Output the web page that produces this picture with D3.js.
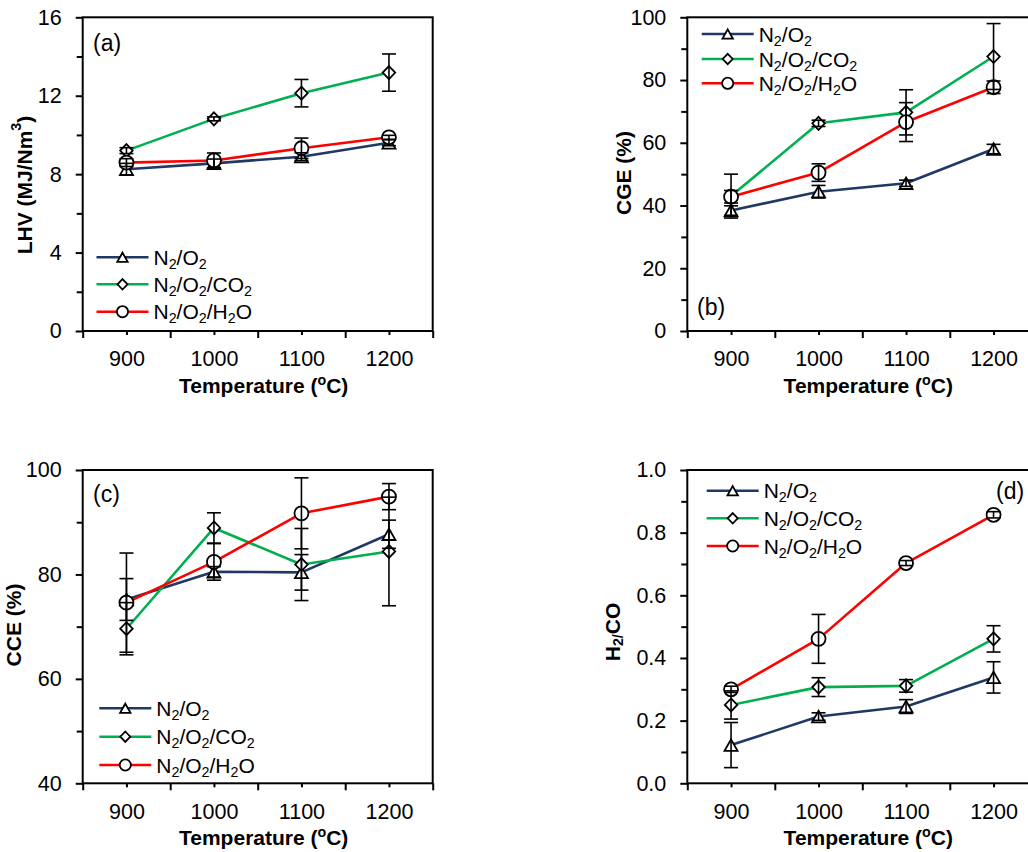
<!DOCTYPE html>
<html><head><meta charset="utf-8">
<script src="https://cdn.jsdelivr.net/npm/d3@7"></script>
<style>
body{margin:0;background:#fff}
svg{display:block}
text{font-family:"Liberation Sans",Arial,sans-serif;fill:#000}
</style>
</head><body>
<svg id="chart" width="1028" height="852"></svg>
<script>
// ---------- DATA ----------
const temperatures = [900, 1000, 1100, 1200];
const seriesNames = ["N2/O2", "N2/O2/CO2", "N2/O2/H2O"];
const seriesColors = ["#1F3864", "#00B050", "#FF0000"];
const seriesMarkers = ["triangle", "diamond", "circle"];

// (a) LHV (MJ/Nm3)
const lhvN2O2 = [8.25, 8.55, 8.89, 9.60];
const lhvCO2  = [9.20, 10.82, 12.13, 13.18];
const lhvH2O  = [8.59, 8.70, 9.32, 9.88];
const lhvN2O2Err = [0.30, 0.22, 0.20, 0.15];
const lhvCO2Err  = [0.15, 0.10, 0.70, 0.95];
const lhvH2OErr  = [0.20, 0.38, 0.52, 0.10];

// (b) CGE (%)
const cgeN2O2 = [38.4, 44.4, 47.1, 58.0];
const cgeCO2  = [43.0, 66.2, 69.7, 87.5];
const cgeH2O  = [42.8, 50.5, 66.6, 77.7];
const cgeN2O2Err = [1.5, 2.0, 1.0, 1.5];
const cgeCO2Err  = [7.0, 1.0, 7.2, 10.5];
const cgeH2OErr  = [2.0, 2.8, 6.2, 2.0];

// (c) CCE (%)
const cceN2O2 = [75.2, 80.5, 80.4, 87.7];
const cceCO2  = [69.6, 88.9, 81.9, 84.4];
const cceH2O  = [74.6, 82.4, 91.7, 94.9];
const cceN2O2Err = [4.0, 1.0, 3.4, 2.7];
const cceCO2Err  = [5.0, 2.9, 6.9, 10.4];
const cceH2OErr  = [9.5, 3.5, 6.8, 2.5];

// (d) H2/CO
const ratioN2O2 = [0.122, 0.213, 0.245, 0.338];
const ratioCO2  = [0.250, 0.307, 0.311, 0.461];
const ratioH2O  = [0.300, 0.461, 0.703, 0.857];
const ratioN2O2Err = [0.072, 0.012, 0.022, 0.050];
const ratioCO2Err  = [0.045, 0.030, 0.020, 0.042];
const ratioH2OErr  = [0.010, 0.078, 0.008, 0.010];

// axis ticks
const xMajorTicks = [850, 950, 1050, 1150, 1250];
const xLabelTicks = [900, 1000, 1100, 1200];
const lhvTicks = [0, 4, 8, 12, 16], lhvMinor = [2, 6, 10, 14];
const cgeTicks = [0, 20, 40, 60, 80, 100], cgeMinor = [10, 30, 50, 70, 90];
const cceTicks = [40, 60, 80, 100], cceMinor = [50, 70, 90];
const ratioTicks = [0, 0.2, 0.4, 0.6, 0.8, 1.0], ratioMinor = [0.1, 0.3, 0.5, 0.7, 0.9];

// ---------- HELPERS ----------
const svg = d3.select("#chart");

function rich(sel, parts, fs, subShift) {
  let off = 0;
  const ss = subShift == null ? 0.3 : subShift;
  parts.forEach(([t, k]) => {
    const target = k === "sub" ? fs * ss : (k === "sup" ? -fs * 0.4 : 0);
    sel.append("tspan").text(t)
      .attr("dy", target - off)
      .attr("font-size", k ? fs * 0.68 : fs);
    off = target;
  });
}
function legendParts(name) {
  const parts = [];
  name.split(/(\d)/).forEach(s => { if (s) parts.push([s, /\d/.test(s) ? "sub" : ""]); });
  return parts;
}
function markerPath(type, k) {
  if (type === "triangle") {
    const w = 13 * k, h = 11.5 * k;
    return `M0,${-h/2}L${w/2},${h/2}L${-w/2},${h/2}Z`;
  }
  if (type === "diamond") {
    const w = 12.5 * k, h = 13 * k;
    return `M0,${-h/2}L${w/2},0L0,${h/2}L${-w/2},0Z`;
  }
  const r = 7 * k;
  return `M${r},0A${r},${r} 0 1,1 ${-r},0A${r},${r} 0 1,1 ${r},0Z`;
}

const TICK_FS = 21.5;

function drawPanel(p) {
  const W = 350;
  const g = svg.append("g");
  const x = d3.scaleLinear().domain([850, 1250]).range([p.left, p.left + W]);
  const y = d3.scaleLinear().domain(p.yDomain).range([p.bottom, p.top]);

  // box
  g.append("rect").attr("x", p.left).attr("y", p.top)
    .attr("width", W).attr("height", p.bottom - p.top)
    .attr("fill", "none").attr("stroke", "#000").attr("stroke-width", 2);

  // y axis major
  const ya = g.append("g").attr("transform", `translate(${p.left},0)`)
    .call(d3.axisLeft(y).tickValues(p.yTicks).tickSize(7).tickSizeOuter(0).tickPadding(14).tickFormat(p.fmt));
  ya.select(".domain").remove();
  ya.selectAll("line").attr("stroke-width", 2);
  ya.selectAll("text").attr("font-size", TICK_FS).attr("font-family", "Liberation Sans, Arial, sans-serif");
  const ym = g.append("g").attr("transform", `translate(${p.left},0)`)
    .call(d3.axisLeft(y).tickValues(p.yMinor).tickSize(6).tickSizeOuter(0).tickFormat(""));
  ym.select(".domain").remove();
  ym.selectAll("line").attr("stroke-width", 2);

  // x axis
  const xa = g.append("g").attr("transform", `translate(0,${p.bottom})`)
    .call(d3.axisBottom(x).tickValues(xMajorTicks).tickSize(7).tickSizeOuter(0).tickFormat(""));
  xa.select(".domain").remove();
  xa.selectAll("line").attr("stroke-width", 2);
  const xl = g.append("g").attr("transform", `translate(0,${p.bottom})`)
    .call(d3.axisBottom(x).tickValues(xLabelTicks).tickSize(4).tickSizeOuter(0).tickPadding(16).tickFormat(d3.format("d")));
  xl.select(".domain").remove();
  xl.selectAll("line").attr("stroke-width", 2);
  xl.selectAll("text").attr("font-size", TICK_FS).attr("font-family", "Liberation Sans, Arial, sans-serif");

  // x title
  const xt = g.append("text").attr("x", p.left + W / 2 + 6).attr("y", p.bottom + 62)
    .attr("text-anchor", "middle").attr("font-weight", "bold");
  rich(xt, [["Temperature (", ""], ["o", "sup"], ["C)", ""]], 21);

  // y title
  const yt = g.append("text")
    .attr("transform", `translate(${p.yTitleX},${p.yTitleY}) rotate(-90)`)
    .attr("text-anchor", "middle").attr("dominant-baseline", "central").attr("font-weight", "bold");
  rich(yt, p.yTitle, 21);

  // series lines
  const line = d3.line().x((d, i) => x(temperatures[i])).y(d => y(d));
  p.series.forEach((s, si) => {
    g.append("path").attr("d", line(s.values)).attr("fill", "none")
      .attr("stroke", seriesColors[si]).attr("stroke-width", 2.6).attr("stroke-linejoin", "round");
  });
  // markers
  p.series.forEach((s, si) => {
    s.values.forEach((v, i) => {
      g.append("path").attr("d", markerPath(seriesMarkers[si], 1))
        .attr("transform", `translate(${x(temperatures[i])},${y(v)})`)
        .attr("fill", "#fff").attr("stroke", "#000").attr("stroke-width", 1.8);
    });
  });
  // error bars
  p.series.forEach((s, si) => {
    s.values.forEach((v, i) => {
      const cx = x(temperatures[i]), e = s.err[i];
      const y1 = y(v + e), y2 = y(v - e);
      g.append("line").attr("x1", cx).attr("x2", cx).attr("y1", y1).attr("y2", y2)
        .attr("stroke", "#000").attr("stroke-width", 1.6);
      [y1, y2].forEach(yy => g.append("line").attr("x1", cx - 7).attr("x2", cx + 7)
        .attr("y1", yy).attr("y2", yy).attr("stroke", "#000").attr("stroke-width", 1.6));
    });
  });

  // legend
  seriesNames.forEach((name, si) => {
    const ry = p.legend.rows[si];
    g.append("line").attr("x1", p.legend.x).attr("x2", p.legend.x + 52)
      .attr("y1", ry).attr("y2", ry).attr("stroke", seriesColors[si]).attr("stroke-width", 2.6);
    g.append("path").attr("d", markerPath(seriesMarkers[si], 0.8))
      .attr("transform", `translate(${p.legend.x + 26},${ry})`)
      .attr("fill", "#fff").attr("stroke", "#000").attr("stroke-width", 1.8);
    const t = g.append("text").attr("x", p.legend.x + 57).attr("y", ry + 7.5);
    rich(t, legendParts(name), 21, 0.2);
  });

  // panel label
  g.append("text").attr("x", p.label.x).attr("y", p.label.y)
    .attr("font-family", "Liberation Serif, Times New Roman, serif").attr("font-size", 23)
    .text(p.label.text);
}

// ---------- PANELS ----------
drawPanel({
  left: 82.7, top: 17.3, bottom: 331,
  yDomain: [0, 16], yTicks: lhvTicks, yMinor: lhvMinor, fmt: d3.format("d"),
  yTitle: [["LHV (MJ/Nm", ""], ["3", "sup"], [")", ""]], yTitleX: 24, yTitleY: 185,
  series: [
    {values: lhvN2O2, err: lhvN2O2Err},
    {values: lhvCO2, err: lhvCO2Err},
    {values: lhvH2O, err: lhvH2OErr}
  ],
  legend: {x: 96.5, rows: [257.3, 284.3, 311.7]},
  label: {text: "(a)", x: 93, y: 51}
});
drawPanel({
  left: 687.3, top: 17.3, bottom: 331,
  yDomain: [0, 100], yTicks: cgeTicks, yMinor: cgeMinor, fmt: d3.format("d"),
  yTitle: [["CGE (%)", ""]], yTitleX: 623, yTitleY: 173,
  series: [
    {values: cgeN2O2, err: cgeN2O2Err},
    {values: cgeCO2, err: cgeCO2Err},
    {values: cgeH2O, err: cgeH2OErr}
  ],
  legend: {x: 701.7, rows: [34, 59, 83.3]},
  label: {text: "(b)", x: 697, y: 315}
});
drawPanel({
  left: 82.7, top: 470, bottom: 783.3,
  yDomain: [40, 100], yTicks: cceTicks, yMinor: cceMinor, fmt: d3.format("d"),
  yTitle: [["CCE (%)", ""]], yTitleX: 13, yTitleY: 625,
  series: [
    {values: cceN2O2, err: cceN2O2Err},
    {values: cceCO2, err: cceCO2Err},
    {values: cceH2O, err: cceH2OErr}
  ],
  legend: {x: 99.3, rows: [708.3, 736.7, 765]},
  label: {text: "(c)", x: 93, y: 502}
});
drawPanel({
  left: 687.3, top: 470, bottom: 783.3,
  yDomain: [0, 1], yTicks: ratioTicks, yMinor: ratioMinor, fmt: d3.format(".1f"),
  yTitle: [["H", ""], ["2/", "sub"], ["CO", ""]], yTitleX: 612, yTitleY: 632,
  series: [
    {values: ratioN2O2, err: ratioN2O2Err},
    {values: ratioCO2, err: ratioCO2Err},
    {values: ratioH2O, err: ratioH2OErr}
  ],
  legend: {x: 706.7, rows: [490.7, 518.3, 546]},
  label: {text: "(d)", x: 996, y: 499}
});
</script>
</body></html>
